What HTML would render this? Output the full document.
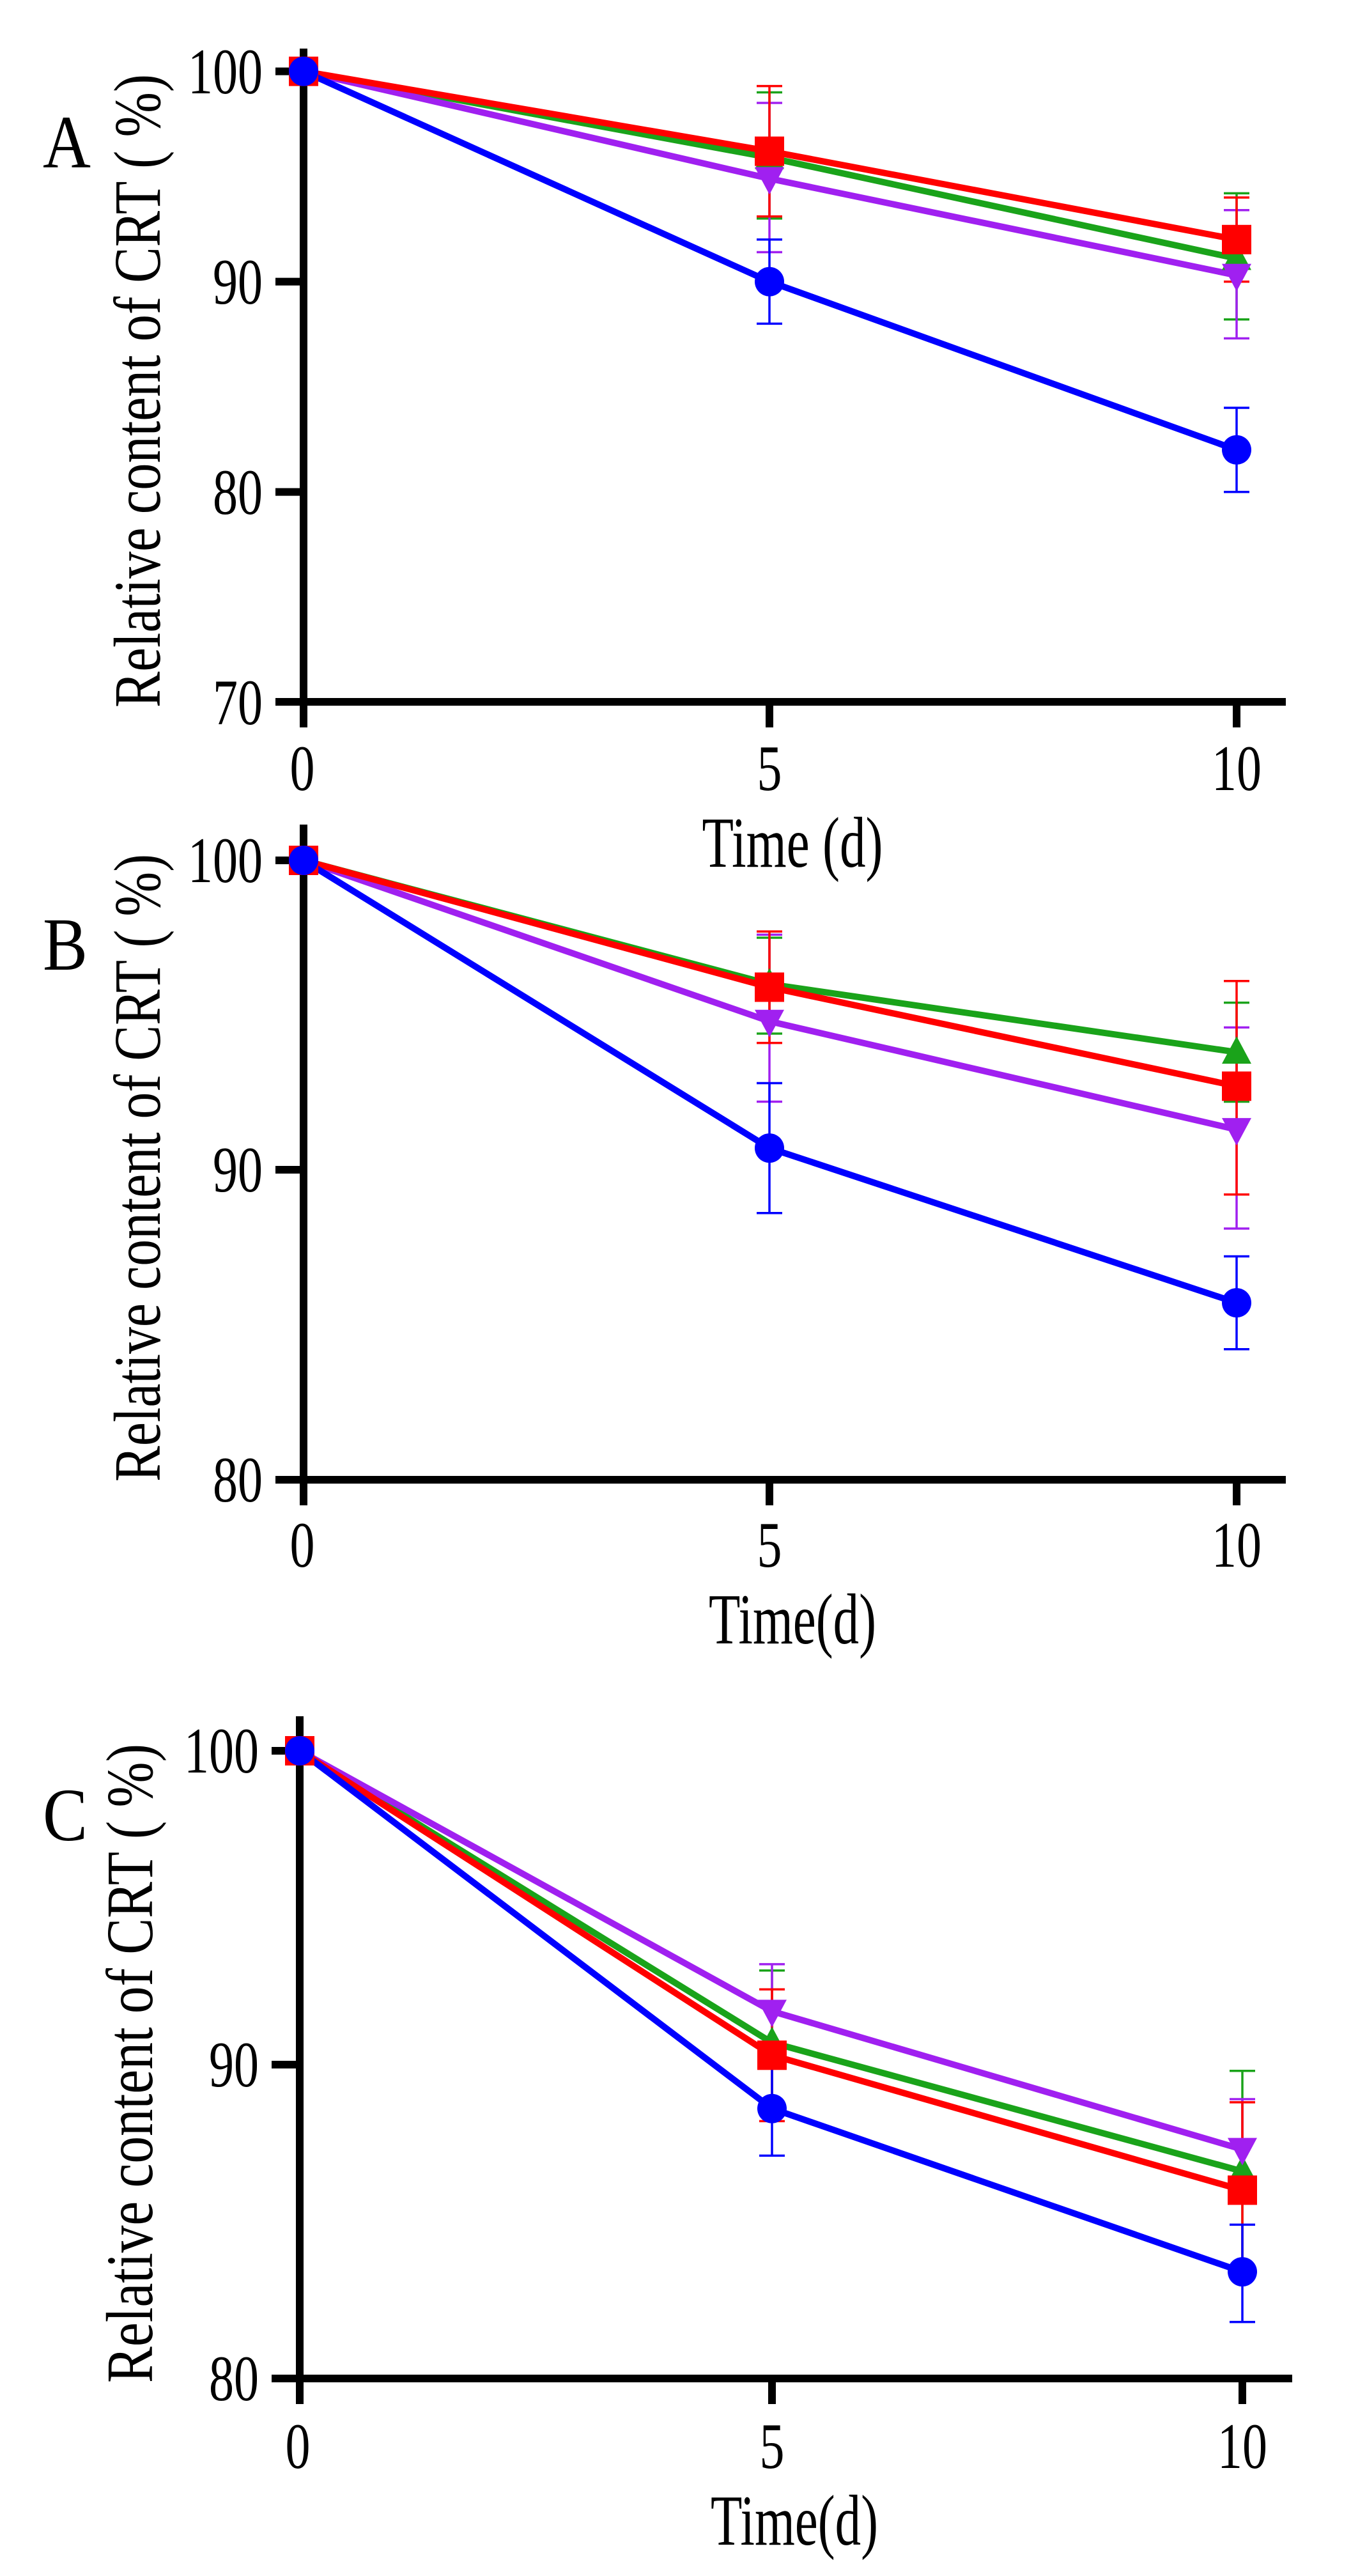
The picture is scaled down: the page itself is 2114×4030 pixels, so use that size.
<!DOCTYPE html>
<html><head><meta charset="utf-8"><style>
html,body{margin:0;padding:0;background:#fff;}
svg{display:block;}
text{font-family:"Liberation Serif",serif;fill:#000;}
</style></head><body>
<svg width="2114" height="4030" viewBox="0 0 2114 4030" xmlns="http://www.w3.org/2000/svg">
<defs>
<g id="mc"><circle cx="0" cy="0" r="23" fill="#0000ff"/></g>
<g id="ms"><rect x="-23" y="-23" width="46" height="46" fill="#ff0000"/></g>
<g id="mt"><polygon points="0,-25 23,18 -23,18" fill="#1aa31a"/></g>
<g id="mv"><polygon points="0,25 23,-18 -23,-18" fill="#a020f0"/></g>
</defs>

<!-- ============ PANEL A ============ -->
<g>
<text x="67" y="262" font-size="118" textLength="75" lengthAdjust="spacingAndGlyphs">A</text>
<text transform="translate(250,1107) rotate(-90)" font-size="104" textLength="991" lengthAdjust="spacingAndGlyphs">Relative content of CRT ( %)</text>
<g stroke="#000" stroke-width="12" fill="none">
<line x1="475" y1="76" x2="475" y2="1138"/>
<line x1="431" y1="1098" x2="2012" y2="1098"/>
<line x1="431" y1="111.6" x2="475" y2="111.6"/>
<line x1="431" y1="440.6" x2="475" y2="440.6"/>
<line x1="431" y1="769.6" x2="475" y2="769.6"/>
<line x1="1204" y1="1098" x2="1204" y2="1138"/>
<line x1="1935" y1="1098" x2="1935" y2="1138"/>
</g>
<g font-size="102" text-anchor="end">
<text x="411" y="146" textLength="117" lengthAdjust="spacingAndGlyphs">100</text><text x="411" y="475" textLength="78" lengthAdjust="spacingAndGlyphs">90</text><text x="411" y="804" textLength="78" lengthAdjust="spacingAndGlyphs">80</text><text x="411" y="1133" textLength="78" lengthAdjust="spacingAndGlyphs">70</text>
</g>
<g font-size="102" text-anchor="middle">
<text x="473" y="1236" textLength="39" lengthAdjust="spacingAndGlyphs">0</text><text x="1204" y="1236" textLength="39" lengthAdjust="spacingAndGlyphs">5</text><text x="1935" y="1236" textLength="78" lengthAdjust="spacingAndGlyphs">10</text>
<text x="1240" y="1356" font-size="112" textLength="283" lengthAdjust="spacingAndGlyphs">Time (d)</text>
</g>
<g stroke-width="3.5" fill="none">
<g stroke="#1aa31a"><path d="M1204 144.5V341.9M1184 144.5h40M1184 341.9h40M1935 302.4V499.8M1915 302.4h40M1915 499.8h40"/></g>
<g stroke="#a020f0"><path d="M1204 161V394.5M1184 161h40M1184 394.5h40M1935 328.7V529.4M1915 328.7h40M1915 529.4h40"/></g>
<g stroke="#ff0000"><path d="M1204 134.6V338.6M1184 134.6h40M1184 338.6h40M1935 309V440.6M1915 309h40M1915 440.6h40"/></g>
<g stroke="#0000ff"><path d="M1204 374.8V506.4M1184 374.8h40M1184 506.4h40M1935 638V769.6M1915 638h40M1915 769.6h40"/></g>
</g>
<g stroke-width="10" fill="none" stroke-linejoin="round">
<polyline stroke="#1aa31a" points="475,111.6 1204,246.5 1935,404.4"/>
<polyline stroke="#a020f0" points="475,111.6 1204,279.4 1935,430.7"/>
<polyline stroke="#ff0000" points="475,111.6 1204,236.6 1935,374.8"/>
<polyline stroke="#0000ff" points="475,111.6 1204,440.6 1935,703.8"/>
</g>
<use href="#mt" x="1204" y="246.5"/><use href="#mt" x="1935" y="404.4"/>
<use href="#mv" x="1204" y="279.4"/><use href="#mv" x="1935" y="430.7"/>
<use href="#ms" x="475" y="111.6"/><use href="#ms" x="1204" y="236.6"/><use href="#ms" x="1935" y="374.8"/>
<use href="#mc" x="475" y="111.6"/><use href="#mc" x="1204" y="440.6"/><use href="#mc" x="1935" y="703.8"/>
</g>

<!-- ============ PANEL B ============ -->
<g>
<text x="67" y="1517" font-size="118" textLength="70" lengthAdjust="spacingAndGlyphs">B</text>
<text transform="translate(250,2318) rotate(-90)" font-size="104" textLength="982" lengthAdjust="spacingAndGlyphs">Relative content of CRT ( %)</text>
<g stroke="#000" stroke-width="12" fill="none">
<line x1="475" y1="1290" x2="475" y2="2355"/>
<line x1="431" y1="2315" x2="2012" y2="2315"/>
<line x1="431" y1="1346" x2="475" y2="1346"/>
<line x1="431" y1="1830" x2="475" y2="1830"/>
<line x1="1204" y1="2315" x2="1204" y2="2355"/>
<line x1="1935" y1="2315" x2="1935" y2="2355"/>
</g>
<g font-size="102" text-anchor="end">
<text x="411" y="1380" textLength="117" lengthAdjust="spacingAndGlyphs">100</text><text x="411" y="1864" textLength="78" lengthAdjust="spacingAndGlyphs">90</text><text x="411" y="2349" textLength="78" lengthAdjust="spacingAndGlyphs">80</text>
</g>
<g font-size="102" text-anchor="middle">
<text x="473" y="2451" textLength="39" lengthAdjust="spacingAndGlyphs">0</text><text x="1204" y="2451" textLength="39" lengthAdjust="spacingAndGlyphs">5</text><text x="1935" y="2451" textLength="78" lengthAdjust="spacingAndGlyphs">10</text>
<text x="1240" y="2571" font-size="112" textLength="262" lengthAdjust="spacingAndGlyphs">Time(d)</text>
</g>
<g stroke-width="3.5" fill="none">
<g stroke="#1aa31a"><path d="M1204 1467V1617M1184 1467h40M1184 1617h40M1935 1568.6V1723.5M1915 1568.6h40M1915 1723.5h40"/></g>
<g stroke="#a020f0"><path d="M1204 1462.2V1723.5M1184 1462.2h40M1184 1723.5h40M1935 1607.4V1922M1915 1607.4h40M1915 1922h40"/></g>
<g stroke="#ff0000"><path d="M1204 1457.3V1631.6M1184 1457.3h40M1184 1631.6h40M1935 1534.8V1868.7M1915 1534.8h40M1915 1868.7h40"/></g>
<g stroke="#0000ff"><path d="M1204 1694.5V1897.8M1184 1694.5h40M1184 1897.8h40M1935 1965.5V2110.7M1915 1965.5h40M1915 2110.7h40"/></g>
</g>
<g stroke-width="10" fill="none" stroke-linejoin="round">
<polyline stroke="#1aa31a" points="475,1346 1204,1539.6 1935,1646.1"/>
<polyline stroke="#a020f0" points="475,1346 1204,1597.7 1935,1767.1"/>
<polyline stroke="#ff0000" points="475,1346 1204,1544.4 1935,1699.3"/>
<polyline stroke="#0000ff" points="475,1346 1204,1796.1 1935,2038.1"/>
</g>
<use href="#mt" x="1204" y="1539.6"/><use href="#mt" x="1935" y="1646.1"/>
<use href="#mv" x="1204" y="1597.7"/><use href="#mv" x="1935" y="1767.1"/>
<use href="#ms" x="475" y="1346"/><use href="#ms" x="1204" y="1544.4"/><use href="#ms" x="1935" y="1699.3"/>
<use href="#mc" x="475" y="1346"/><use href="#mc" x="1204" y="1796.1"/><use href="#mc" x="1935" y="2038.1"/>
</g>

<!-- ============ PANEL C ============ -->
<g>
<text x="67" y="2879" font-size="118" textLength="70" lengthAdjust="spacingAndGlyphs">C</text>
<text transform="translate(238,3728) rotate(-90)" font-size="104" textLength="1000" lengthAdjust="spacingAndGlyphs">Relative content of CRT ( %)</text>
<g stroke="#000" stroke-width="12" fill="none">
<line x1="469" y1="2685" x2="469" y2="3761"/>
<line x1="425" y1="3721" x2="2022" y2="3721"/>
<line x1="425" y1="2739" x2="469" y2="2739"/>
<line x1="425" y1="3230" x2="469" y2="3230"/>
<line x1="1208" y1="3721" x2="1208" y2="3761"/>
<line x1="1944" y1="3721" x2="1944" y2="3761"/>
</g>
<g font-size="102" text-anchor="end">
<text x="405" y="2773" textLength="117" lengthAdjust="spacingAndGlyphs">100</text><text x="405" y="3264" textLength="78" lengthAdjust="spacingAndGlyphs">90</text><text x="405" y="3755" textLength="78" lengthAdjust="spacingAndGlyphs">80</text>
</g>
<g font-size="102" text-anchor="middle">
<text x="466" y="3861" textLength="39" lengthAdjust="spacingAndGlyphs">0</text><text x="1208" y="3861" textLength="39" lengthAdjust="spacingAndGlyphs">5</text><text x="1944" y="3861" textLength="78" lengthAdjust="spacingAndGlyphs">10</text>
<text x="1243" y="3981" font-size="112" textLength="262" lengthAdjust="spacingAndGlyphs">Time(d)</text>
</g>
<g stroke-width="3.5" fill="none">
<g stroke="#1aa31a"><path d="M1208 3082.7V3308.6M1188 3082.7h40M1188 3308.6h40M1944 3239.8V3554M1924 3239.8h40M1924 3554h40"/></g>
<g stroke="#a020f0"><path d="M1208 3072.9V3220.2M1188 3072.9h40M1188 3220.2h40M1944 3284V3441.1M1924 3284h40M1924 3441.1h40"/></g>
<g stroke="#ff0000"><path d="M1208 3112.2V3318.4M1188 3112.2h40M1188 3318.4h40M1944 3288.9V3563.9M1924 3288.9h40M1924 3563.9h40"/></g>
<g stroke="#0000ff"><path d="M1208 3220.2V3372.4M1188 3220.2h40M1188 3372.4h40M1944 3480.4V3632.6M1924 3480.4h40M1924 3632.6h40"/></g>
</g>
<g stroke-width="10" fill="none" stroke-linejoin="round">
<polyline stroke="#1aa31a" points="469,2739 1208,3195.6 1944,3396.9"/>
<polyline stroke="#a020f0" points="469,2739 1208,3146.5 1944,3362.6"/>
<polyline stroke="#ff0000" points="469,2739 1208,3215.3 1944,3426.4"/>
<polyline stroke="#0000ff" points="469,2739 1208,3298.7 1944,3554.1"/>
</g>
<use href="#mt" x="1208" y="3195.6"/><use href="#mt" x="1944" y="3396.9"/>
<use href="#mv" x="1208" y="3146.5"/><use href="#mv" x="1944" y="3362.6"/>
<use href="#ms" x="469" y="2739"/><use href="#ms" x="1208" y="3215.3"/><use href="#ms" x="1944" y="3426.4"/>
<use href="#mc" x="469" y="2739"/><use href="#mc" x="1208" y="3298.7"/><use href="#mc" x="1944" y="3554.1"/>
</g>
</svg>
</body></html>
